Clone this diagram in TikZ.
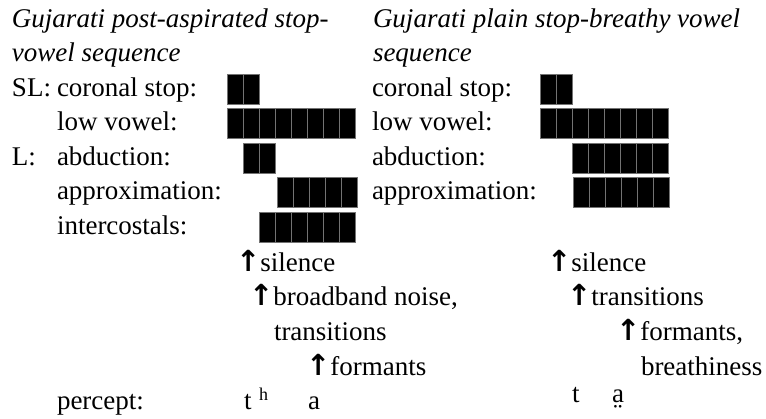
\documentclass[tikz,border=0pt]{standalone}
\usepackage{fontspec}
\setmainfont{Liberation Serif}
\newfontfamily\arrowfont{DejaVu Sans}
\newcommand\upar{{\arrowfont\bfseries\fontsize{29}{33}\selectfont ↑}}
\begin{document}
\begin{tikzpicture}[x=1pt,y=-1pt,
  txt/.style={inner sep=0pt, outer sep=0pt, anchor=base west,
    font=\fontsize{27}{33}\selectfont},
  ttl/.style={txt, font=\fontsize{27}{33}\selectfont\itshape},
  sup/.style={txt, font=\fontsize{18}{20}\selectfont},
  cellbox/.style={fill=black, draw=black!55, line width=0.8pt}]
\useasboundingbox (0,0) rectangle (766,419);

% a row of n gesture cells, 16 units wide, starting at x, on baseline y
\newcommand\gestrow[3]{%
  \foreach \i in {1,...,#3}{%
    \path[cellbox] ({#1+16*(\i-1)},{#2-23}) rectangle ({#1+16*\i},{#2+7});}}

% ---------- left column: post-aspirated stop + vowel ----------
\node[ttl] (lt1) at (12,28) {Gujarati post-aspirated stop-};
\node[ttl] (lt2) at (12,62) {vowel sequence};
\node[txt] (lsl) at (12,97) {SL:};
\node[txt] (lcor) at (57,97) {coronal stop:};
\node[txt] (llow) at (57,131) {low vowel:};
\node[txt] (ll) at (12,166) {L:};
\node[txt] (labd) at (57,166) {abduction:};
\node[txt] (lapp) at (57,200) {approximation:};
\node[txt] (lint) at (57,235) {intercostals:};

\gestrow{227}{97}{2}
\gestrow{227}{131}{8}
\gestrow{243}{166}{2}
\gestrow{277}{200}{5}
\gestrow{259}{235}{6}

\node[txt] (lsil) at (236,272) {\upar silence};
\node[txt] (lbro) at (249,306) {\upar broadband noise,};
\node[txt] (ltra) at (274,341) {transitions};
\node[txt] (lfor) at (306,376) {\upar formants};
\node[txt] (lper) at (57,410) {percept:};
\node[txt] (lt) at (244,410) {t};
\node[sup] (lh) at (259,401) {h};
\node[txt] (la) at (308,410) {a};

% ---------- right column: plain stop + breathy vowel ----------
\node[ttl] (rt1) at (373,28) {Gujarati plain stop-breathy vowel};
\node[ttl] (rt2) at (373,62) {sequence};
\node[txt] (rcor) at (372,97) {coronal stop:};
\node[txt] (rlow) at (372,131) {low vowel:};
\node[txt] (rabd) at (372,166) {abduction:};
\node[txt] (rapp) at (372,200) {approximation:};

\gestrow{540}{97}{2}
\gestrow{540}{131}{8}
\gestrow{572}{166}{6}
\gestrow{573}{200}{6}

\node[txt] (rsil) at (547,272) {\upar silence};
\node[txt] (rtra) at (567,306) {\upar transitions};
\node[txt] (rfor) at (616,341) {\upar formants,};
\node[txt] (rbre) at (641,376) {breathiness};
\node[txt] (rt) at (572,403) {t};
\node[txt] (ra) at (612,403) {a̤};
\end{tikzpicture}
\end{document}
